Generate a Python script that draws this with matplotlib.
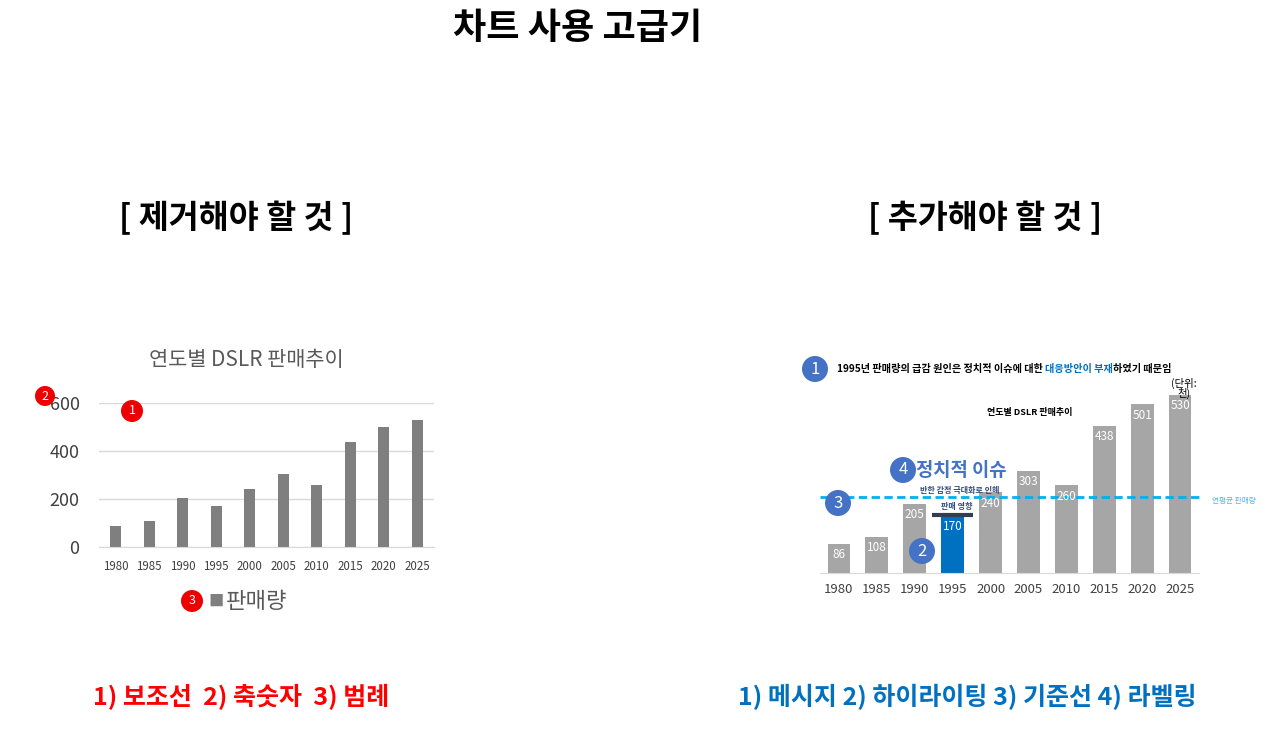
import numpy as np
import matplotlib
matplotlib.use("Agg")
import matplotlib.pyplot as plt
from matplotlib.patches import Ellipse

plt.rcParams["font.family"] = ["Noto Sans CJK KR", "DejaVu Sans"]

#----data----
years = ["1980", "1985", "1990", "1995", "2000", "2005", "2010", "2015", "2020", "2025"]
sales = [86, 108, 205, 170, 240, 303, 260, 438, 501, 530]
highlight_idx = 3
ref_value = 226
y_ticks = [0, 200, 400, 600]
message = [("1995년 판매량의 급감 원인은 정치적 이슈에 대한 ", "black"),
           ("대응방안이 부재", "#0070c0"),
           ("하였기 때문임", "black")]

W, H = 1280, 731
fig = plt.figure(figsize = (W/100, H/100), dpi = 100)

def rect(l, t, r, b):
    return [l/W, 1 - b/H, (r - l)/W, (b - t)/H]

def fx(x): return x/W
def fy(y): return 1 - y/H

def badge(x, y, label, color, r = 10, fs = 9):
    fig.patches.append(Ellipse((fx(x), fy(y)), 2*r/W, 2*r/H, transform = fig.transFigure,
                               facecolor = color, edgecolor = "none", zorder = 10))
    fig.text(fx(x), fy(y), label, ha = "center", va = "center", fontsize = fs, color = "white", zorder = 11)

#----page texts----
fig.text(fx(578), fy(28), "차트 사용 고급기", ha = "center", va = "center", fontsize = 26, fontweight = "heavy", color = "black")
fig.text(fx(236), fy(218), "[ 제거해야 할 것 ]", ha = "center", va = "center", fontsize = 23.5, fontweight = "bold", color = "black")
fig.text(fx(985), fy(218), "[ 추가해야 할 것 ]", ha = "center", va = "center", fontsize = 23.5, fontweight = "bold", color = "black")
fig.text(fx(241), fy(697), "1) 보조선  2) 축숫자  3) 범례", ha = "center", va = "center", fontsize = 18, fontweight = "bold", color = "#ff0000")
fig.text(fx(967), fy(697), "1) 메시지 2) 하이라이팅 3) 기준선 4) 라벨링", ha = "center", va = "center", fontsize = 18, fontweight = "bold", color = "#0070c0")

x = np.arange(len(years))

#----left chart : the cluttered one----
ax1 = fig.add_axes(rect(99, 403, 434, 547))
ax1.bar(x, sales, 0.33, color = "#7f7f7f")
ax1.set_xlim(-0.5, len(years) - 0.5)
ax1.set_ylim(0, 600)
ax1.set_yticks(y_ticks)
ax1.set_yticklabels([str(t) for t in y_ticks], fontsize = 13, color = "#404040")
ax1.set_xticks(x)
ax1.set_xticklabels(years, fontsize = 8.3, color = "#404040")
ax1.grid(axis = "y", color = "#d9d9d9", linewidth = 1)
ax1.set_axisbelow(True)
for s in ["top", "right", "left"]:
    ax1.spines[s].set_visible(False)
ax1.spines["bottom"].set_color("#d9d9d9")
ax1.tick_params(length = 0, axis = "both")
ax1.tick_params(axis = "y", pad = 14)
ax1.tick_params(axis = "x", pad = 9)
fig.text(fx(246), fy(360), "연도별 DSLR 판매추이", ha = "center", va = "center", fontsize = 15, color = "#595959")
# legend drawn by hand
fig.text(fx(216), fy(601), "■", ha = "center", va = "center", fontsize = 11, color = "#7f7f7f")
fig.text(fx(226), fy(601), "판매량", ha = "left", va = "center", fontsize = 16, color = "#595959")
badge(45, 396, "2", "#ee0000", r = 10)
badge(132, 411, "1", "#ee0000", r = 11)
badge(192, 601, "3", "#ee0000", r = 11)

#----right chart : the annotated one----
ax2 = fig.add_axes(rect(820, 371, 1199, 573))
colors = ["#0070c0" if i == highlight_idx else "#a6a6a6" for i in range(len(years))]
ax2.bar(x, sales, 0.6, color = colors)
ax2.set_xlim(-0.5, len(years) - 0.5)
ax2.set_ylim(0, 600)
ax2.set_yticks([])
ax2.set_xticks(x)
ax2.set_xticklabels(years, fontsize = 9.5, color = "#404040")
for s in ["top", "right", "left"]:
    ax2.spines[s].set_visible(False)
ax2.spines["bottom"].set_color("#d9d9d9")
ax2.tick_params(length = 0, axis = "x", pad = 7)
for i, v in enumerate(sales):
    ax2.text(i, v - 13, str(v), ha = "center", va = "top", fontsize = 8.5, color = "white")
ax2.axhline(ref_value, color = "#00b0f0", linestyle = (0, (3, 1.6)), linewidth = 2, xmin = 0, xmax = 1.01, clip_on = False)
ax2.hlines(sales[highlight_idx] + 3, highlight_idx - 0.55, highlight_idx + 0.55, color = "#333f50", linewidth = 3)
ax2.text(len(years) - 1 + 0.1, 548, "(단위:\n천)", ha = "center", va = "center", fontsize = 7.5, color = "black", linespacing = 0.9)

fig.text(fx(1030), fy(413), "연도별 DSLR 판매추이", ha = "center", va = "center", fontsize = 6.5, fontweight = "bold", color = "black")
fig.text(fx(1234), fy(501), "연평균 판매량", ha = "center", va = "center", fontsize = 5.5, color = "#4fb8e8")

# message line, pieces chained one after another
renderer = fig.canvas.get_renderer()
cur_x = 837
for txt, col in message:
    t = fig.text(fx(cur_x), fy(369), txt, ha = "left", va = "center", fontsize = 7.3, fontweight = "bold", color = col)
    cur_x += t.get_window_extent(renderer).width

fig.text(fx(916), fy(471), "정치적 이슈", ha = "left", va = "center", fontsize = 13.5, fontweight = "heavy", color = "#4472c4")
fig.text(fx(960), fy(491), "반한 감정 극대화로 인해", ha = "center", va = "center", fontsize = 5.8, fontweight = "bold", color = "#2f4a7f")
fig.text(fx(957), fy(506), "판매 영향", ha = "center", va = "center", fontsize = 5.8, fontweight = "bold", color = "#2f4a7f")
badge(815, 369, "1", "#4472c4", r = 13, fs = 12)
badge(922, 551, "2", "#4472c4", r = 13, fs = 12)
badge(838, 503, "3", "#4472c4", r = 13, fs = 12)
badge(903, 470, "4", "#4472c4", r = 13, fs = 12)

plt.savefig("out.png", dpi = 100)
